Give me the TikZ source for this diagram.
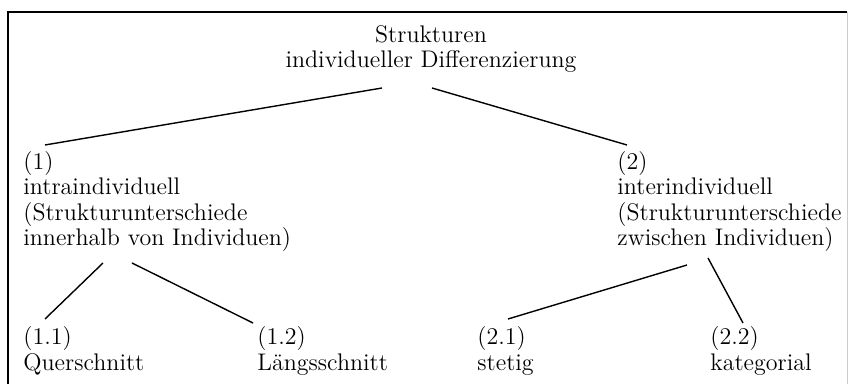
\documentclass[tikz,border=0pt]{standalone}
\usepackage{tikz}
\usetikzlibrary{calc, positioning}

\tikzset{
  lab/.style={inner sep=0pt, align=left, anchor=base west, font=\fontsize{12}{12.75}\selectfont},
  branch/.style={line width=0.7pt},
}

\begin{document}
\begin{tikzpicture}[x=0.5pt, y=-0.5pt]
    \useasboundingbox (0,0) rectangle (850,384);
    % frame, open at the bottom
    \draw[line width=1pt] (8,384) -- (8,12) -- (847,12);
    \draw[gray!40, line width=0.5pt] (847,12) -- (847,384);
    % levels (anchors sit on the last baseline)
    \node[lab, align=center, anchor=base] (root) at (431,68) {Strukturen\\individueller Differenzierung};
    \node[lab] (intra) at (23,246) {(1)\\intraindividuell\\(Strukturunterschiede\\innerhalb von Individuen)};
    \node[lab] (inter) at (617,246) {(2)\\interindividuell\\(Strukturunterschiede\\zwischen Individuen)};
    \node[lab] (quer) at (23,370) {(1.1)\\Querschnitt};
    \node[lab] (laengs) at (257,370) {(1.2)\\L\"angsschnitt};
    \node[lab] (stetig) at (477,370) {(2.1)\\stetig};
    \node[lab] (kat) at (710,370) {(2.2)\\kategorial};
    % branches
    \draw[branch] ([shift={(-49,20)}]root.base) -- ([shift={(22,-101)}]intra.base west);
    \draw[branch] ([shift={(1,20)}]root.base) -- ([shift={(10,-101)}]inter.base west);
    \draw[branch] ([shift={(80,17)}]intra.base west) -- ([shift={(22,-51)}]quer.base west);
    \draw[branch] ([shift={(109,17)}]intra.base west) -- ([shift={(-4,-47)}]laengs.base west);
    \draw[branch] ([shift={(70,19)}]inter.base west) -- ([shift={(31,-51)}]stetig.base west);
    \draw[branch] ([shift={(91,12)}]inter.base west) -- ([shift={(33,-47)}]kat.base west);
\end{tikzpicture}
\end{document}
